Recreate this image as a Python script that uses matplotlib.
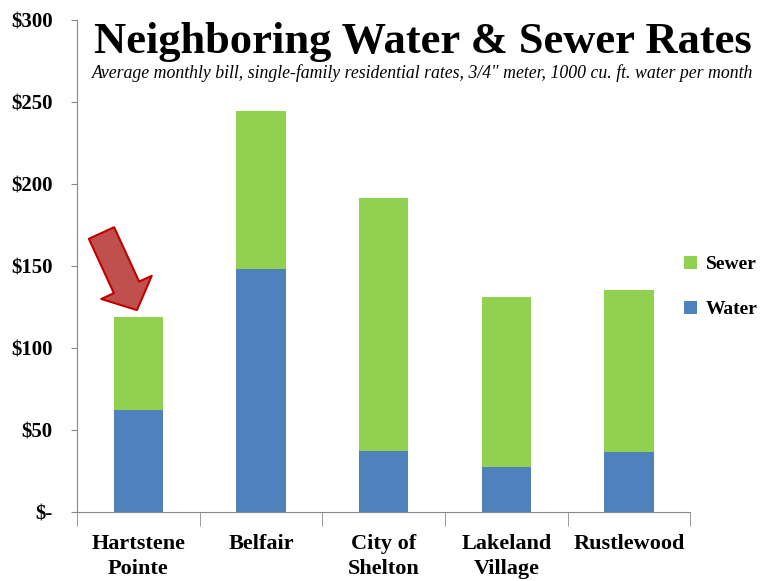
import numpy as np
import matplotlib.pyplot as plt

# data
towns = ['Hartstene\nPointe', 'Belfair', 'City of\nShelton', 'Lakeland\nVillage', 'Rustlewood']
water = [62, 148, 37, 27.5, 36.5]
sewer = [57, 96.5, 154.5, 103.5, 98.5]
yticks = [0, 50, 100, 150, 200, 250, 300]
ytick_labels = ['$-', '$50', '$100', '$150', '$200', '$250', '$300']

blue = '#4F81BD'
green = '#92D050'
serif = ['Liberation Serif', 'DejaVu Serif']
plt.rcParams['font.family'] = serif

fig = plt.figure(figsize=(7.62, 5.81), dpi=100)
ax = fig.add_axes([0.101, 0.119, 0.805, 0.847])

x = np.arange(len(towns))
ax.bar(x, water, width=0.4, color=blue, label='Water')
ax.bar(x, sewer, width=0.4, bottom=water, color=green, label='Sewer')

ax.set_xlim(-0.5, len(towns) - 0.5)
ax.set_ylim(0, 300)
ax.set_yticks(yticks)
ax.set_yticklabels(ytick_labels, fontsize=15, fontweight='bold')
ax.set_xticks(x)
ax.set_xticklabels(towns, fontsize=16, fontweight='bold', linespacing=1.3)
ax.set_xticks(np.arange(len(towns) + 1) - 0.5, minor=True)
ax.tick_params(axis='x', which='major', length=0, pad=16)
ax.tick_params(axis='x', which='minor', length=10, color='#888888')
ax.tick_params(axis='y', length=4.5, color='#888888', pad=13)
for s in ['top', 'right']:
    ax.spines[s].set_visible(False)
for s in ['left', 'bottom']:
    ax.spines[s].set_color('#888888')

# legend, sewer on top
h, l = ax.get_legend_handles_labels()
leg = ax.legend(h[::-1], l[::-1], loc='center left', bbox_to_anchor=(0.99, 0.457),
                frameon=False, handlelength=0.65, handleheight=0.65,
                labelspacing=1.45, handletextpad=0.45, borderpad=0, borderaxespad=0,
                prop={'family': serif, 'weight': 'bold', 'size': 14})

# red arrow pointing at Hartstene Pointe
top0 = water[0] + sewer[0]
ax.annotate('', xy=(x[0] - 0.011, top0 + 4), xytext=(x[0] - 0.30, top0 + 51),
            arrowprops=dict(arrowstyle='simple,head_length=0.9,head_width=2.0,tail_width=1.0',
                            fc='#C0504D', ec='#C00000', lw=1.5, shrinkA=0, shrinkB=0,
                            mutation_scale=20))

fig.text(0.555, 0.928, 'Neighboring Water & Sewer Rates', ha='center', va='center',
         fontsize=32, fontweight='bold')
fig.text(0.555, 0.874, 'Average monthly bill, single-family residential rates, 3/4" meter, 1000 cu. ft. water per month',
         ha='center', va='center', fontsize=12.8, style='italic')

fig.savefig('out.png', dpi=100)
